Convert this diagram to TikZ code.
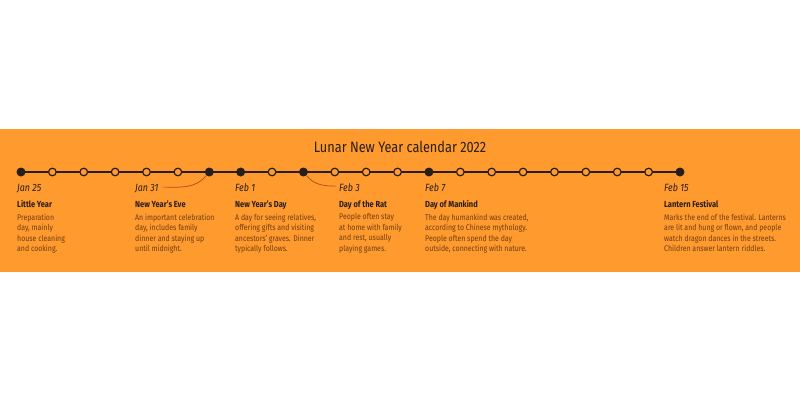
\documentclass[tikz,border=0pt]{standalone}
\usepackage{fontspec}
\setmainfont{Fira Sans}[FakeStretch=0.85]
\usetikzlibrary{positioning}

\definecolor{bandorange}{RGB}{254,154,46}
\definecolor{inkdark}{RGB}{40,30,25}
\definecolor{textbrown}{RGB}{112,62,20}
\definecolor{linkbrown}{RGB}{165,82,25}

\begin{document}
\begin{tikzpicture}[x=1pt, y=1pt,
  dotfull/.style={circle, fill=inkdark, inner sep=0pt, minimum size=9pt},
  dotopen/.style={circle, draw=inkdark, fill=bandorange, line width=1.2pt, inner sep=0pt, minimum size=7.6pt},
  datelabel/.style={anchor=base west, inner sep=0pt, font=\fontsize{10.5}{12}\selectfont\itshape, text=inkdark},
  evtitle/.style={anchor=base west, inner sep=0pt, font=\fontsize{8.8}{10}\selectfont\bfseries, text=inkdark},
  evtext/.style={anchor=north west, inner sep=0pt, align=left, font=\fontsize{8.2}{10.5}\selectfont, text=textbrown},
  link/.style={draw=linkbrown, line width=0.7pt}
]
\useasboundingbox (0,0) rectangle (800,-400);
\fill[white] (0,0) rectangle (800,-400);
\fill[bandorange] (0,-129) rectangle (800,-272);

\node[font=\fontsize{15}{17}\selectfont, text=inkdark] (title) at (400,-147) {Lunar New Year calendar 2022};

% one mark per day, Jan 25 to Feb 15
\foreach \i in {0,...,21}
  \coordinate (p\i) at ({21+31.38*\i},-172);
\draw[inkdark, line width=1.3pt] (p0) -- (p21);
\foreach \i in {1,2,3,4,5,8,10,11,12,14,15,16,17,18,19,20}
  \node[dotopen] (d\i) at (p\i) {};
\foreach \i in {0,6,7,9,13,21}
  \node[dotfull] (d\i) at (p\i) {};

\node[datelabel] (jan25) at (17,-191) {Jan 25};
\node[datelabel] (jan31) at (135,-191) {Jan 31};
\node[datelabel] (feb1) at (235,-191) {Feb 1};
\node[datelabel] (feb3) at (339,-191) {Feb 3};
\node[datelabel] (feb7) at (425,-191) {Feb 7};
\node[datelabel] (feb15) at (664,-191) {Feb 15};

\draw[link] ([xshift=4pt,yshift=1pt]jan31.east) to[out=0, in=-130] (d6);
\draw[link] (d9) to[out=-50, in=180] ([xshift=-3pt,yshift=1pt]feb3.west);

\node[evtitle] (littleyear) at (17,-207.5) {Little Year};
\node[evtitle] (eve) at (135,-207.5) {New Year’s Eve};
\node[evtitle] (newyear) at (235,-207.5) {New Year’s Day};
\node[evtitle] (rat) at (339,-207.5) {Day of the Rat};
\node[evtitle] (mankind) at (425,-207.5) {Day of Mankind};
\node[evtitle] (lantern) at (664,-207.5) {Lantern Festival};

\node[evtext] (littleyeartext) at (17,-213.5) {Preparation\\day, mainly\\house cleaning\\and cooking.};
\node[evtext] (evetext) at (135,-213.5) {An important celebration\\day, includes family\\dinner and staying up\\until midnight.};
\node[evtext] (newyeartext) at (235,-213.5) {A day for seeing relatives,\\offering gifts and visiting\\ancestors’ graves. Dinner\\typically follows.};
\node[evtext] (rattext) at (339,-213.5) {People often stay\\at home with family\\and rest, usually\\playing games.};
\node[evtext] (mankindtext) at (425,-213.5) {The day humankind was created,\\according to Chinese mythology.\\People often spend the day\\outside, connecting with nature.};
\node[evtext] (lanterntext) at (664,-213.5) {Marks the end of the festival. Lanterns\\are lit and hung or flown, and people\\watch dragon dances in the streets.\\Children answer lantern riddles.};
\end{tikzpicture}
\end{document}
